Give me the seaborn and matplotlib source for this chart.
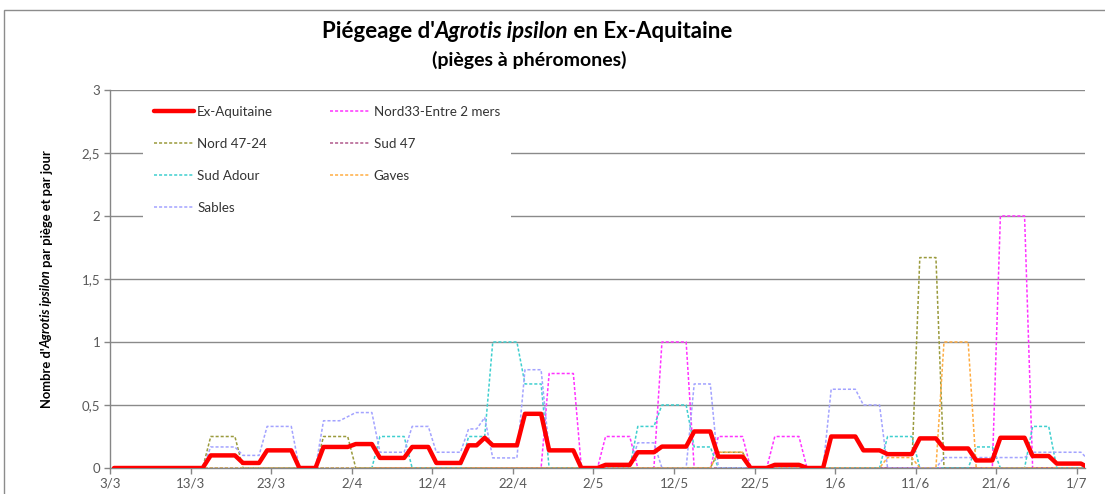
import matplotlib
matplotlib.use("Agg")
import matplotlib.pyplot as plt
from matplotlib.patches import Rectangle
from matplotlib.transforms import IdentityTransform
import numpy as np
import pandas as pd
import seaborn as sns

# Data: corner points of each curve, as day offsets from 3 March and values
START = pd.Timestamp("2016-03-03")

ex_aquitaine_days = [0, 11, 12, 15, 16, 18, 19, 22, 23, 25, 26, 29, 30, 32, 33, 36, 37, 39, 40, 43,
                     44, 45, 46, 47, 50, 51, 53, 54, 57, 58, 60, 61, 64, 65, 67, 68, 71, 72, 74, 75,
                     78, 79, 81, 82, 85, 86, 88, 89, 92, 93, 95, 96, 99, 100, 102, 103, 106, 107, 109, 110,
                     113, 114, 116, 117, 120, 121]
ex_aquitaine_vals = [0, 0, 0.1, 0.1, 0.04, 0.04, 0.14, 0.14, 0, 0, 0.167, 0.167, 0.19, 0.19, 0.08, 0.08, 0.167, 0.167, 0.04, 0.04,
                     0.18, 0.18, 0.24, 0.18, 0.18, 0.43, 0.43, 0.14, 0.14, 0, 0, 0.025, 0.025, 0.125, 0.125, 0.17, 0.17, 0.29, 0.29, 0.09,
                     0.09, 0, 0, 0.025, 0.025, 0, 0, 0.25, 0.25, 0.14, 0.14, 0.11, 0.11, 0.235, 0.235, 0.155, 0.155, 0.06, 0.06, 0.24,
                     0.24, 0.095, 0.095, 0.035, 0.035, 0]

nord33_days = [0, 53, 54, 57, 58, 60, 61, 64, 65, 67, 68, 71, 72, 74, 75, 78, 79, 81, 82, 85, 86, 109, 110, 113, 114, 121]
nord33_vals = [0, 0, 0.75, 0.75, 0, 0, 0.25, 0.25, 0, 0, 1, 1, 0, 0, 0.25, 0.25, 0, 0, 0.25, 0.25, 0, 0, 2, 2, 0, 0]

nord47_days = [0, 11, 12, 15, 16, 25, 26, 29, 30, 74, 75, 78, 79, 99, 100, 102, 103, 121]
nord47_vals = [0, 0, 0.25, 0.25, 0, 0, 0.25, 0.25, 0, 0, 0.125, 0.125, 0, 0, 1.67, 1.67, 0, 0]

sud47_days = [0, 121]
sud47_vals = [0, 0]

sud_adour_days = [0, 32, 33, 36, 37, 43, 44, 46, 47, 50, 51, 53, 54, 64, 65, 67, 68, 71, 72, 74,
                  75, 95, 96, 99, 100, 106, 107, 109, 110, 113, 114, 116, 117, 121]
sud_adour_vals = [0, 0, 0.25, 0.25, 0, 0, 0.25, 0.25, 1, 1, 0.667, 0.667, 0, 0, 0.33, 0.33, 0.5, 0.5, 0.167, 0.167,
                  0, 0, 0.25, 0.25, 0, 0, 0.167, 0.167, 0, 0, 0.33, 0.33, 0, 0]

gaves_days = [0, 74, 75, 78, 79, 95, 96, 99, 100, 102, 103, 106, 107, 121]
gaves_vals = [0, 0, 0.125, 0.125, 0, 0, 0.083, 0.083, 0, 0, 1, 1, 0, 0]

sables_days = [0, 11, 12, 15, 16, 18, 19, 22, 23, 25, 26, 28, 30, 32, 33, 36, 37, 39, 40, 43,
               44, 45, 46, 47, 50, 51, 53, 54, 57, 58, 64, 65, 67, 68, 71, 72, 74, 75, 88, 89,
               92, 93, 95, 96, 102, 103, 113, 114, 120, 121]
sables_vals = [0, 0, 0.167, 0.167, 0.1, 0.1, 0.33, 0.33, 0, 0, 0.375, 0.375, 0.44, 0.44, 0.125, 0.125, 0.33, 0.33, 0.125, 0.125,
               0.31, 0.31, 0.4, 0.08, 0.08, 0.78, 0.78, 0.14, 0.14, 0, 0, 0.2, 0.2, 0, 0, 0.667, 0.667, 0, 0, 0.625,
               0.625, 0.5, 0.5, 0, 0, 0.083, 0.083, 0.125, 0.125, 0.06]

tick_dates = pd.date_range(START, periods=13, freq="10D")
y_ticks = [0, 0.5, 1, 1.5, 2, 2.5, 3]


def to_dates(days):
    # Excel places each daily point in the middle of its day
    return START + pd.to_timedelta(np.array(days) + 0.5, unit="D")


def rich_text(fig, cx, cy, parts, size, rotation=0):
    r = fig.canvas.get_renderer()
    widths = []
    for s, st in parts:
        t = fig.text(0, 0, s, fontsize=size, fontweight="bold", fontstyle=st)
        widths.append(t.get_window_extent(r).width)
        t.remove()
    pos = -sum(widths) / 2
    for (s, st), w in zip(parts, widths):
        x, y = (cx + pos, cy) if rotation == 0 else (cx, cy + pos)
        fig.text(x, y, s, transform=IdentityTransform(), fontsize=size, fontweight="bold",
                 fontstyle=st, rotation=rotation, rotation_mode="anchor",
                 ha="left", va="baseline", color="black")
        pos += w


sns.set_theme(style="white")
plt.rcParams["font.family"] = ["Lato", "DejaVu Sans"]

fig = plt.figure(figsize=(11.05, 4.94), dpi=100)
ax = fig.add_axes([110 / 1105, 26 / 494, 975 / 1105, 378 / 494])

dash = (0, (2, 1.3))
series = [
    ("Nord33-Entre 2 mers", nord33_days, nord33_vals, "#ff33ff"),
    ("Nord 47-24", nord47_days, nord47_vals, "#9a9a3c"),
    ("Sud 47", sud47_days, sud47_vals, "#b0588c"),
    ("Sud Adour", sud_adour_days, sud_adour_vals, "#3fcfcf"),
    ("Sables", sables_days, sables_vals, "#a3a3ff"),
    ("Gaves", gaves_days, gaves_vals, "#ffad42"),
]
for name, days, vals, col in series:
    sns.lineplot(x=to_dates(days), y=vals, ax=ax, color=col, lw=1.1,
                 linestyle=dash, label=name)
sns.lineplot(x=to_dates(ex_aquitaine_days), y=ex_aquitaine_vals, ax=ax,
             color="#ff0000", lw=3.2, label="Ex-Aquitaine", zorder=5)

ax.set_xlim(START, START + pd.Timedelta(days=121))
ax.set_ylim(0, 3)
ax.set_xticks(tick_dates)
ax.set_xticklabels([f"{d.day}/{d.month}" for d in tick_dates])
ax.set_yticks(y_ticks)
ax.set_yticklabels([f"{v:g}".replace(".", ",") for v in y_ticks])
ax.yaxis.grid(True, color="#8a8a8a", lw=1.0)
ax.xaxis.grid(False)
ax.set_axisbelow(True)
for s in ["top", "right"]:
    ax.spines[s].set_visible(False)
for s in ["left", "bottom"]:
    ax.spines[s].set_color("#868686")
    ax.spines[s].set_linewidth(1.0)
ax.tick_params(axis="both", direction="out", length=4, width=1, color="#868686",
               labelcolor="#595959", labelsize=9.5, pad=3, left=True, bottom=True)
ax.set_xlabel("")
ax.set_ylabel("")

# legend, row-wise order as in the original
h, l = ax.get_legend_handles_labels()
order = ["Ex-Aquitaine", "Nord 47-24", "Sud Adour", "Sables",
         "Nord33-Entre 2 mers", "Sud 47", "Gaves"]
hd = dict(zip(l, h))
leg = ax.legend([hd[o] for o in order], order, ncol=2, loc="upper left",
                bbox_to_anchor=(0.034, 0.987), borderaxespad=0, frameon=True,
                facecolor="white", edgecolor="none", framealpha=1, fontsize=9.6,
                handlelength=3.0, handletextpad=0.25, labelspacing=1.5,
                columnspacing=4.3, borderpad=0.8)
leg.set_zorder(10)
for t in leg.get_texts():
    t.set_color("#333333")

# titles and y label
rich_text(fig, 527, 494 - 38, [("Piégeage d'", "normal"), ("Agrotis ipsilon", "italic"),
                               (" en Ex-Aquitaine", "normal")], 16)
rich_text(fig, 529, 494 - 66, [("(pièges à phéromones)", "normal")], 14)
rich_text(fig, 51, 494 - 279, [("Nombre d'", "normal"), ("Agrotis ipsilon", "italic"),
                               (" par piège et par jour", "normal")], 9.4, rotation=90)

# chart area border
fig.patches.append(Rectangle((4, -10), 1200, 494 - 10 + 10, transform=IdentityTransform(),
                             fill=False, edgecolor="#8c8c8c", lw=1.0))

fig.savefig("out.png", dpi=100)
